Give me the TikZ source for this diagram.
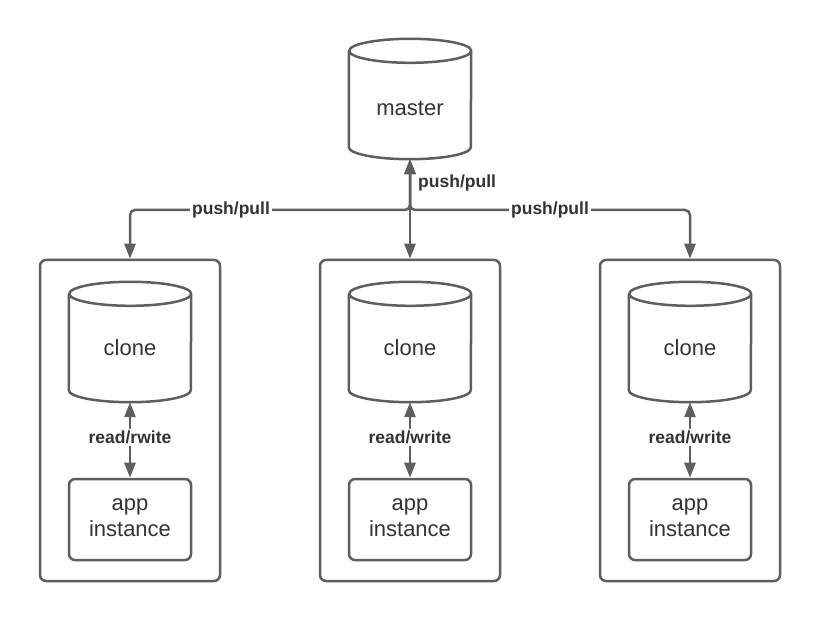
\documentclass[tikz,border=0pt]{standalone}
\usepackage{fontspec}
\setmainfont{Liberation Sans}
\usetikzlibrary{arrows.meta}
\definecolor{ln}{HTML}{5E5E5E}
\definecolor{txt}{HTML}{333333}
\newcommand\cylpath[1]{\draw[shapeline] ([yshift=-12pt]#1.north west) -- ([yshift=12pt]#1.south west) arc[start angle=180, end angle=360, x radius=61pt, y radius=12pt] -- ([yshift=-12pt]#1.north east) arc[start angle=0, end angle=360, x radius=61pt, y radius=12pt];}
\begin{document}
\begin{tikzpicture}[x=1pt,y=-1pt,
  shapeline/.style={draw=ln, line width=2.5pt},
  cylbox/.style={rectangle, minimum width=122pt, minimum height=120pt, inner sep=0pt},
  outer/.style={shapeline, rectangle, rounded corners=6pt, minimum width=180pt, minimum height=321pt},
  appbox/.style={shapeline, rectangle, rounded corners=6pt, minimum width=122pt, minimum height=81pt},
  bigtext/.style={text=txt, font=\fontsize{22}{26}\selectfont, anchor=base, inner sep=0pt},
  lbl/.style={text=txt, font=\fontsize{17.5}{20}\selectfont\bfseries, fill=white, inner sep=2pt},
  conn/.style={draw=ln, line width=2.5pt, {Triangle[length=15pt,width=11pt]}-{Triangle[length=15pt,width=11pt]}, rounded corners=5pt}
]
\fill[white] (0,0) rectangle (820,620);
\useasboundingbox (0,0) rectangle (820,620);

% master
\node[cylbox] (master) at (410,99) {};
\cylpath{master}
\node[bigtext] (mastert) at (410,116) {master};

% column 1
\node[outer] (box1) at (130,420.5) {};
\node[cylbox] (clone1) at (130,342) {};
\cylpath{clone1}
\node[bigtext] (clone1t) at (130,356) {clone};
\node[appbox] (app1) at (130,519.5) {};
\node[bigtext] (app1a) at (130,510) {app};
\node[bigtext] (app1b) at (130,536) {instance};
\draw[conn] (clone1.south) -- (app1.north) node[lbl, pos=0.467] (rw1) {read/rwite};

% column 2
\node[outer] (box2) at (410,420.5) {};
\node[cylbox] (clone2) at (410,342) {};
\cylpath{clone2}
\node[bigtext] (clone2t) at (410,356) {clone};
\node[appbox] (app2) at (410,519.5) {};
\node[bigtext] (app2a) at (410,510) {app};
\node[bigtext] (app2b) at (410,536) {instance};
\draw[conn] (clone2.south) -- (app2.north) node[lbl, pos=0.467] (rw2) {read/write};

% column 3
\node[outer] (box3) at (690,420.5) {};
\node[cylbox] (clone3) at (690,342) {};
\cylpath{clone3}
\node[bigtext] (clone3t) at (690,356) {clone};
\node[appbox] (app3) at (690,519.5) {};
\node[bigtext] (app3a) at (690,510) {app};
\node[bigtext] (app3b) at (690,536) {instance};
\draw[conn] (clone3.south) -- (app3.north) node[lbl, pos=0.467] (rw3) {read/write};

% push/pull connectors
\coordinate (jn) at (410,210);
\draw[conn] (master.south) -- (jn) -| (box1.north);
\draw[conn] (master.south) -- (jn) -| (box3.north);
\draw[conn] (master.south) -- (box2.north);
\node[lbl] (pp1) at (231,210) {push/pull};
\node[lbl] (pp3) at (550,210) {push/pull};
\node[lbl, anchor=west] (pp2) at (416,183) {push/pull};
\end{tikzpicture}
\end{document}
